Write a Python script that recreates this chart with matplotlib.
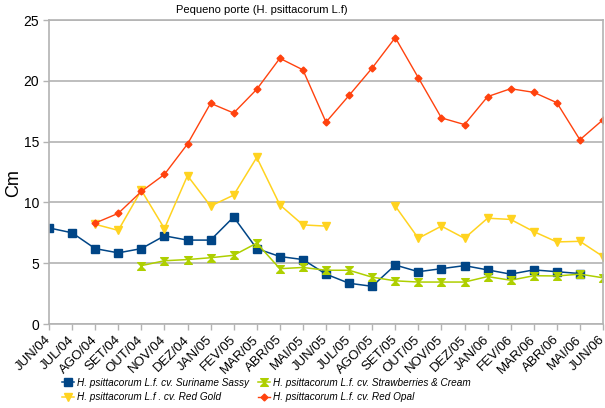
import matplotlib
matplotlib.use("Agg")
import matplotlib.pyplot as plt
import numpy as np
from matplotlib.path import Path

plt.rcParams['font.family'] = ['Liberation Sans', 'DejaVu Sans']

months = ["JUN/04", "JUL/04", "AGO/04", "SET/04", "OUT/04", "NOV/04", "DEZ/04",
          "JAN/05", "FEV/05", "MAR/05", "ABR/05", "MAI/05", "JUN/05", "JUL/05",
          "AGO/05", "SET/05", "OUT/05", "NOV/05", "DEZ/05", "JAN/06", "FEV/06",
          "MAR/06", "ABR/06", "MAI/06", "JUN/06"]

nan = np.nan
suriname = [7.9, 7.5, 6.2, 5.85, 6.2, 7.25, 6.9, 6.9, 8.8, 6.2, 5.55, 5.3, 4.1,
            3.35, 3.1, 4.85, 4.3, 4.55, 4.8, 4.45, 4.1, 4.45, 4.3, 4.15, nan]
strawberries = [nan, nan, nan, nan, 4.8, 5.2, 5.3, 5.45, 5.65, 6.65, 4.55, 4.65,
                4.42, 4.42, 3.85, 3.55, 3.45, 3.45, 3.45, 3.9, 3.6, 3.97, 3.95, 4.1, 3.8]
red_gold = [nan, nan, 8.2, 7.7, 11.0, 7.85, 12.2, 9.7, 10.6, 13.7, 9.8, 8.15, 8.05,
            nan, nan, 9.7, 7.05, 8.05, 7.05, 8.7, 8.6, 7.6, 6.75, 6.8, 5.55]
red_opal = [nan, nan, 8.3, 9.1, 10.9, 12.3, 14.8, 18.15, 17.35, 19.3, 21.85, 20.9,
            16.6, 18.8, 21.05, 23.55, 20.25, 16.95, 16.4, 18.7, 19.35, 19.05, 18.2,
            15.15, 16.8]

series_labels = ["H. psittacorum L.f. cv. Suriname Sassy",
                 "H. psittacorum L.f. cv. Strawberries & Cream",
                 "H. psittacorum L.f . cv. Red Gold",
                 "H. psittacorum L.f. cv. Red Opal"]

hourglass = Path([(-1, 1), (1, 1), (-1, -1), (1, -1), (-1, 1)],
                 [Path.MOVETO, Path.LINETO, Path.LINETO, Path.LINETO, Path.CLOSEPOLY])

fig = plt.figure(figsize=(6.05, 4.08), dpi=100)
ax = fig.add_axes([49/605, 1-324/408, (603-49)/605, (324-20)/408])

x = np.arange(len(months))
l1, = ax.plot(x, suriname, color='#004586', marker='s', markersize=5.5, lw=1.1)
l3, = ax.plot(x, red_gold, color='#ffd320', marker='v', markersize=6, lw=1.1)
l2, = ax.plot(x, strawberries, color='#aecf00', marker=hourglass, markersize=5.5, lw=1.1)
l4, = ax.plot(x, red_opal, color='#ff420e', marker='D', markersize=3.5, lw=1.0)

ax.set_xlim(0, len(months) - 1)
ax.set_ylim(0, 25)
ax.set_yticks([0, 5, 10, 15, 20, 25])
ax.yaxis.grid(True, color='#b3b3b3', lw=1.2)
ax.set_axisbelow(True)
for s in ax.spines.values():
    s.set_color('#b3b3b3')
    s.set_linewidth(1.2)
ax.set_xticks(x)
ax.set_xticklabels(months, rotation=45, ha='right', va='center',
                   rotation_mode='anchor', fontsize=9.5)
ax.tick_params(axis='both', colors='#b3b3b3', length=4, width=1, labelcolor='black')
ax.tick_params(axis='x', pad=6)
ax.tick_params(axis='y', labelsize=10, pad=3)
ax.set_ylabel("Cm", fontsize=13)
ax.yaxis.set_label_coords(-27/554, (324-183)/304)

fig.text(262/605, 1-10/408, "Pequeno porte (H. psittacorum L.f)", ha='center', va='center', fontsize=8)

fig.legend([l1, l3, l2, l4], [series_labels[0], series_labels[2], series_labels[1], series_labels[3]],
           loc='center', bbox_to_anchor=(266/605, 1-390/408),
           ncol=2, frameon=False, prop={'style': 'italic', 'size': 7.2},
           handlelength=1.2, handletextpad=0.3, columnspacing=0.9, labelspacing=0.45)

fig.savefig("out.png", dpi=100)
